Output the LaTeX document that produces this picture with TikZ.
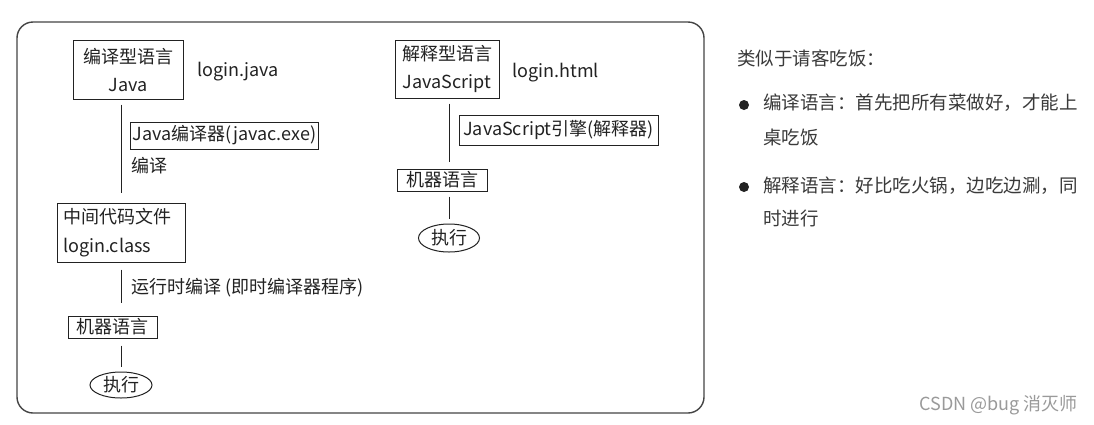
\documentclass[tikz,border=0pt]{standalone}
\usepackage{fontspec}
\setmainfont{Noto Sans CJK SC}
\usetikzlibrary{shapes.geometric}
\definecolor{ink}{HTML}{222222}
\definecolor{frame}{HTML}{444444}
\definecolor{txt}{HTML}{3A3A3A}
\definecolor{wm}{HTML}{9A9A9A}
\tikzset{
  dfont/.style={font=\fontsize{18}{28}\selectfont, text=ink},
  boxnode/.style={dfont, draw=ink, line width=1pt, inner sep=2pt, align=center},
  plain/.style={dfont, inner sep=0pt, anchor=west},
  ovalnode/.style={dfont, draw=ink, line width=1pt, ellipse, inner sep=0pt},
  link/.style={draw=ink, line width=1pt},
  rtext/.style={font=\fontsize{18.5}{22}\selectfont, text=txt, inner sep=0pt, anchor=west},
  dot/.style={circle, fill=ink, inner sep=0pt, minimum size=10pt}
}
\begin{document}
\begin{tikzpicture}[x=1pt,y=-1pt]
\useasboundingbox (0,0) rectangle (1094,424);
\fill[white] (0,0) rectangle (1094,424);
\draw[frame, line width=1.4pt, rounded corners=16pt] (17,22) rectangle (704,413);

% left column
\node[boxnode, minimum width=110pt, minimum height=59pt] (b1) at (128,69.5) {编译型语言\\Java};
\node[plain] (f1) at (197,72) {login.java};
\node[boxnode, minimum width=188pt, minimum height=27pt, anchor=west, inner sep=1pt] (c1) at (130,135.5) {Java编译器(javac.exe)};
\node[plain] (k1) at (131,166) {编译};
\node[boxnode, minimum width=128pt, minimum height=59pt, align=left, text width=116pt] (b3) at (121,232.5) {中间代码文件\\[1pt]login.class};
\node[plain] (k2) at (131,288) {运行时编译 (即时编译器程序)};
\node[boxnode, minimum width=89pt, minimum height=22pt, inner sep=0.5pt] (m1) at (112.5,327) {机器语言};
\node[ovalnode, minimum width=62pt, minimum height=26pt] (e1) at (121,385) {执行};

\draw[link, shorten <=5pt, shorten >=10pt] (b1.south -| b3.north) -- (b3.north);
\draw[link, shorten <=7pt, shorten >=13pt] (b3.south) -- (b3.south |- m1.north);
\draw[link, shorten <=7pt, shorten >=5pt] (b3.south |- m1.south) -- (e1.north);

% right column
\node[boxnode, minimum width=104pt, minimum height=58pt] (b2) at (447,69) {解释型语言\\JavaScript};
\node[plain] (f2) at (512,73) {login.html};
\node[boxnode, minimum width=199pt, minimum height=30pt, inner sep=1pt] (c2) at (558.5,130) {JavaScript引擎(解释器)};
\node[boxnode, minimum width=90pt, minimum height=22pt, inner sep=0.5pt] (m2) at (442,180) {机器语言};
\node[ovalnode, minimum width=61pt, minimum height=28pt] (e2) at (449,238) {执行};

\draw[link, shorten <=5pt, shorten >=7pt] (b2.south -| e2.north) -- (m2.north -| e2.north);
\draw[link, shorten <=5pt, shorten >=5pt] (m2.south -| e2.north) -- (e2.north);

% right text
\node[rtext] (r0) at (737,58) {类似于请客吃饭：};
\node[dot] (d1) at (744,105) {};
\node[rtext] (r1) at (763,103) {编译语言：首先把所有菜做好，才能上};
\node[rtext] (r2) at (763,137) {桌吃饭};
\node[dot] (d2) at (744,187) {};
\node[rtext] (r3) at (763,186) {解释语言：好比吃火锅，边吃边涮，同};
\node[rtext] (r4) at (763,218) {时进行};

\node[font=\fontsize{18}{20}\selectfont, text=wm, inner sep=0pt, anchor=east] (w) at (1078,405) {CSDN @bug 消灭师};
\end{tikzpicture}
\end{document}
